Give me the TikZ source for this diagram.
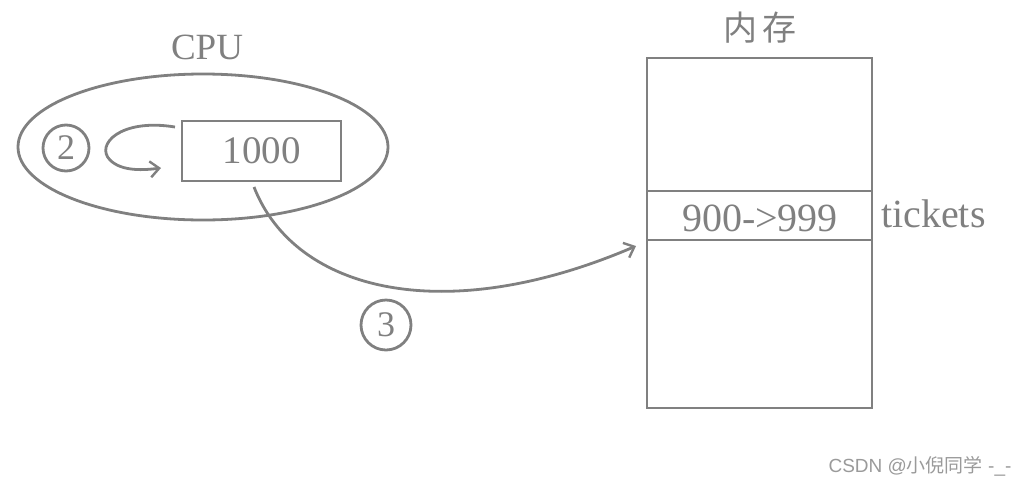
\documentclass[tikz,border=0pt]{standalone}
\usepackage{fontspec}
\setmainfont{Liberation Serif}
\newfontfamily\cjk{Noto Sans CJK SC}
\newfontfamily\wmfont{Liberation Sans}
\usetikzlibrary{arrows.meta,shapes.geometric}
\definecolor{ln}{RGB}{128,128,128}
\begin{document}
\begin{tikzpicture}[x=1pt,y=-1pt,
  lnw/.style={draw=ln,line width=2.8pt},
  txt/.style={text=ln,font=\fontsize{37}{40}\selectfont,inner sep=0pt},
  num/.style={lnw,circle,minimum size=46pt,inner sep=0pt,text=ln,font=\fontsize{36}{38}\selectfont},
  arr/.style={lnw,-{Straight Barb[length=9pt,width=16pt,line width=2.4pt]}}]
\useasboundingbox (0,0) rectangle (1024,488);
\node[txt] (cputitle) at (207,47) {CPU};
\node[lnw,ellipse,minimum width=370pt,minimum height=146pt] (cpu) at (203,147) {};
\node[lnw,minimum width=159pt,minimum height=60pt,txt,font=\fontsize{39}{42}\selectfont] (reg) at (261.5,151) {1000};
\node[num] (two) at (66,148) {2};
\coordinate (loopstart) at (175,127);
\draw[arr] (loopstart) .. controls (120,118) and (95,145) .. (110,160) .. controls (122,172) and (145,170) .. (161,168);
% memory
\node[lnw,minimum width=225pt,minimum height=350pt,inner sep=0pt] (mem) at (759.5,233) {};
\node[lnw,minimum width=225pt,minimum height=49pt,inner sep=0pt] (tick) at (759.5,215.5) {};
\node[txt,font=\fontsize{40}{42}\selectfont] (val) at (760,218) {900->999};
\node[txt,font=\fontsize{40}{42}\selectfont,anchor=west] (tname) at (881,214) {tickets};
\node[text=ln,font=\cjk\fontsize{34}{38}\selectfont,inner sep=0pt] (memtitle) at (760,28) {内\,存};
\coordinate (a3s) at (254,187);
\coordinate (a3e) at (636,246);
\draw[arr] (a3s) .. controls (295,292) and (445,328) .. (a3e);
\node[num,minimum size=50pt] (three) at (386,325) {3};
\node[text=ln!80,font=\wmfont\fontsize{19}{21}\selectfont,inner sep=0pt] (wm) at (920,466) {CSDN @{\cjk 小倪同学} -\_-};
\end{tikzpicture}
\end{document}
